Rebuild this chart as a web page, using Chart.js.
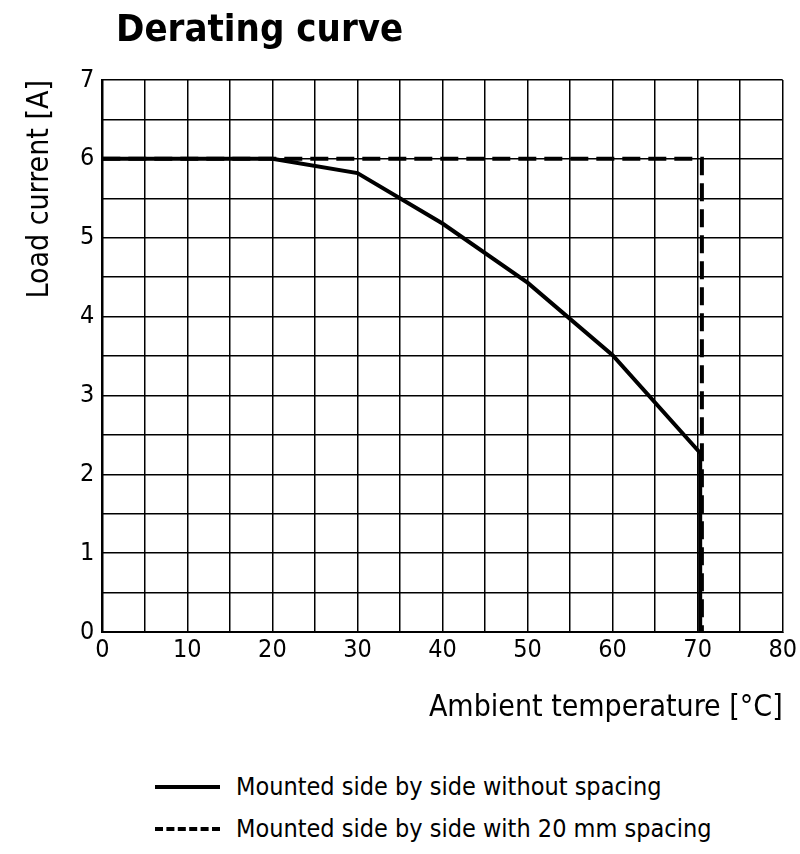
<!DOCTYPE html>
<html><head>
<script src="https://cdn.jsdelivr.net/npm/chart.js@4"></script>
<style>
body{margin:0;background:#fff;font-family:"DejaVu Sans Condensed","Liberation Sans Narrow",sans-serif;}
#wrap{position:relative;width:800px;height:854px;}
#c{position:absolute;left:0;top:0;}
.title{position:absolute;left:116px;top:6px;font-size:38px;font-weight:bold;}
.leg{position:absolute;left:155px;font-size:25px;display:flex;align-items:center;}
.leg span.l{display:inline-block;width:65px;margin-right:16px;border-top:4px solid #000;}
.leg span.d{border-top:4px dashed #000;}
</style>
</head><body>
<div id="wrap">
<canvas id="c" width="800" height="730"></canvas>
<div class="title">Derating curve</div>
<div class="leg" style="top:772px"><span class="l"></span>Mounted side by side without spacing</div>
<div class="leg" style="top:814px"><span class="l d"></span>Mounted side by side with 20 mm spacing</div>
</div>
<script>
// values
const tempNoSpacing = [0, 20, 30, 40, 50, 60, 70.3, 70.3];
const currentNoSpacing = [6, 6, 5.82, 5.18, 4.43, 3.51, 2.27, 0];
const tempSpacing = [0, 70.5, 70.5];
const currentSpacing = [6, 6, 0];

const pts = (xs, ys) => xs.map((x, i) => ({ x, y: ys[i] }));
const fam = '"DejaVu Sans Condensed", "Liberation Sans Narrow", sans-serif';
const tickFont = { family: fam, size: 25 };

new Chart(document.getElementById('c'), {
  type: 'scatter',
  data: {
    datasets: [{
      data: pts(tempNoSpacing, currentNoSpacing),
      showLine: true, borderColor: '#000', borderWidth: 4, pointRadius: 0, tension: 0
    }, {
      data: pts(tempSpacing, currentSpacing),
      showLine: true, borderColor: '#000', borderWidth: 4, borderDash: [18, 8], pointRadius: 0, tension: 0
    }]
  },
  options: {
    responsive: false,
    animation: false,
    layout: { padding: { top: 80, right: 17, left: 18, bottom: 0 } },
    plugins: { legend: { display: false }, tooltip: { enabled: false } },
    scales: {
      x: {
        type: 'linear', min: 0, max: 80,
        ticks: { stepSize: 5, color: '#000', font: tickFont, maxRotation: 0, autoSkip: false,
          callback: v => v % 10 === 0 ? v : '' },
        grid: { color: '#000', lineWidth: 1.5, tickLength: 0 },
        border: { color: '#000', width: 2 },
        title: { display: true, text: 'Ambient temperature [°C]', color: '#000', align: 'end',
          font: { family: fam, size: 30 }, padding: { top: 22 } }
      },
      y: {
        min: 0, max: 7,
        ticks: { stepSize: 0.5, color: '#000', font: tickFont, autoSkip: false, padding: 8,
          callback: v => Number.isInteger(v) ? v : '' },
        grid: { color: '#000', lineWidth: 1.5, tickLength: 0 },
        border: { color: '#000', width: 2 },
        title: { display: true, text: 'Load current [A]', color: '#000', align: 'end',
          font: { family: fam, size: 30 }, padding: { bottom: 14 } }
      }
    }
  }
});
</script>
</body></html>
